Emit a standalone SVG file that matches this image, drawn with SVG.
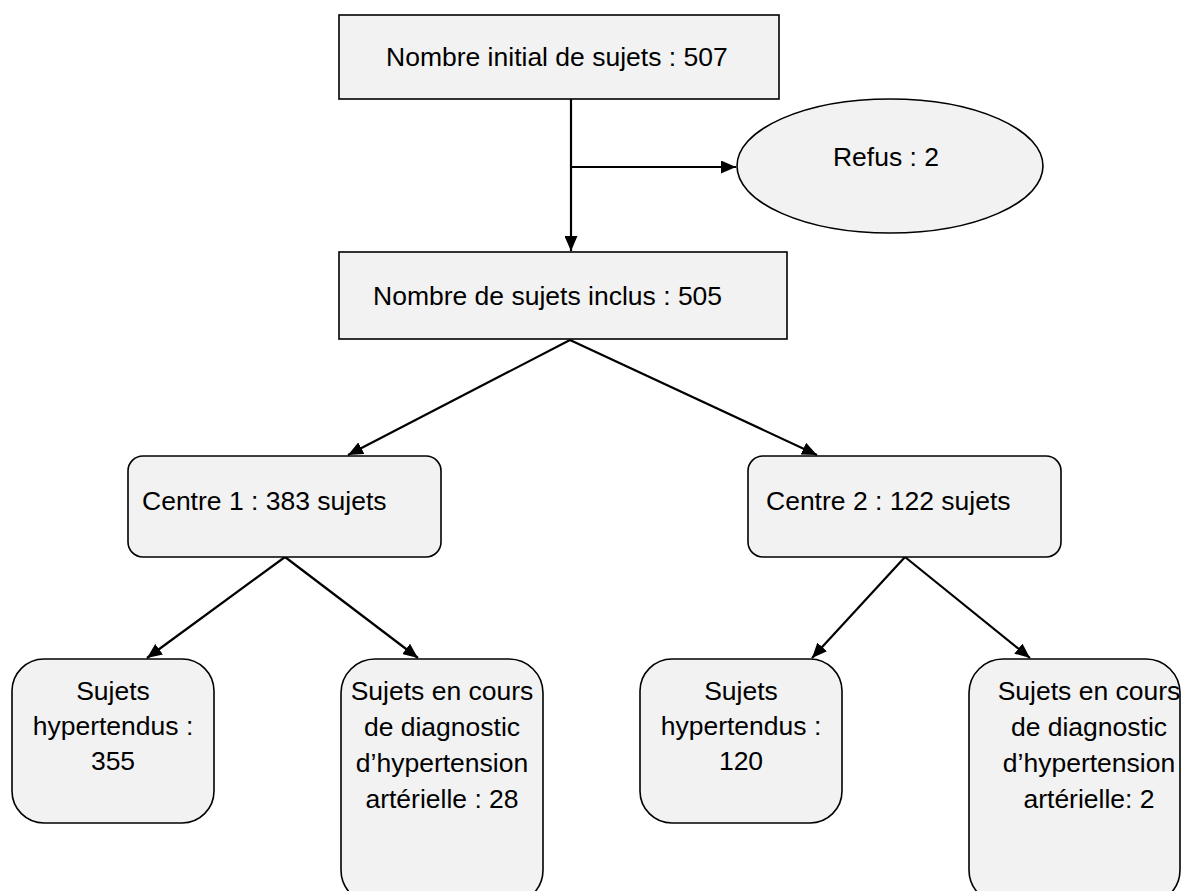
<svg xmlns="http://www.w3.org/2000/svg" width="1190" height="891" viewBox="0 0 1190 891">
<style>
.box{fill:#f2f2f2;stroke:#000;stroke-width:1.6}
.t{font-family:"Liberation Sans",Arial,sans-serif;font-size:26.5px;fill:#000}
.c{text-anchor:middle}
.ln{stroke:#000;stroke-width:2.2;fill:none;marker-end:url(#ah)}
</style>
<defs>
<marker id="ah" viewBox="0 0 10 10" refX="10" refY="5" markerWidth="15" markerHeight="13" markerUnits="userSpaceOnUse" orient="auto" preserveAspectRatio="none">
<path d="M0,0 L10,5 L0,10 z" fill="#000"/>
</marker>
</defs>
<rect width="1190" height="891" fill="#fff"/>
<g id="connectors">
<line class="ln" x1="571" y1="99" x2="571" y2="251"/>
<line class="ln" x1="571" y1="167" x2="736" y2="167"/>
<line class="ln" x1="570" y1="340" x2="348" y2="455"/>
<line class="ln" x1="570" y1="340" x2="817" y2="455"/>
<line class="ln" x1="285" y1="557" x2="147" y2="658"/>
<line class="ln" x1="285" y1="557" x2="418" y2="658"/>
<line class="ln" x1="905" y1="557" x2="812" y2="658"/>
<line class="ln" x1="905" y1="557" x2="1030" y2="658"/>
</g>
<g id="n-initial">
<rect class="box" x="339" y="15" width="440" height="84"/>
<text class="t" x="386" y="66">Nombre initial de sujets : 507</text>
</g>
<g id="n-refus">
<ellipse class="box" cx="890" cy="166" rx="153" ry="67"/>
<text class="t" x="886" y="166" text-anchor="middle">Refus : 2</text>
</g>
<g id="n-inclus">
<rect class="box" x="339" y="252" width="448" height="87"/>
<text class="t" x="373" y="305">Nombre de sujets inclus : 505</text>
</g>
<g id="n-centre1">
<rect class="box" x="128" y="456" width="313" height="101" rx="15"/>
<text class="t" x="142" y="510">Centre 1 : 383 sujets</text>
</g>
<g id="n-centre2">
<rect class="box" x="748" y="456" width="313" height="101" rx="15"/>
<text class="t" x="766" y="510">Centre 2 : 122 sujets</text>
</g>
<g id="n-hyp1">
<rect class="box" x="12" y="659" width="202" height="164" rx="32"/>
<text class="t c" x="113" y="700">Sujets</text>
<text class="t c" x="113" y="735">hypertendus :</text>
<text class="t c" x="113" y="770">355</text>
</g>
<g id="n-diag1">
<rect class="box" x="341" y="659" width="202" height="245" rx="34"/>
<text class="t c" x="442" y="700">Sujets en cours</text>
<text class="t c" x="442" y="736">de diagnostic</text>
<text class="t c" x="442" y="772">d’hypertension</text>
<text class="t c" x="442" y="808">artérielle : 28</text>
</g>
<g id="n-hyp2">
<rect class="box" x="640" y="659" width="202" height="164" rx="32"/>
<text class="t c" x="741" y="700">Sujets</text>
<text class="t c" x="741" y="735">hypertendus :</text>
<text class="t c" x="741" y="770">120</text>
</g>
<g id="n-diag2">
<rect class="box" x="969" y="659" width="211" height="245" rx="34"/>
<text class="t c" x="1089" y="700">Sujets en cours</text>
<text class="t c" x="1089" y="736">de diagnostic</text>
<text class="t c" x="1089" y="772">d’hypertension</text>
<text class="t c" x="1089" y="808">artérielle: 2</text>
</g>
</svg>
